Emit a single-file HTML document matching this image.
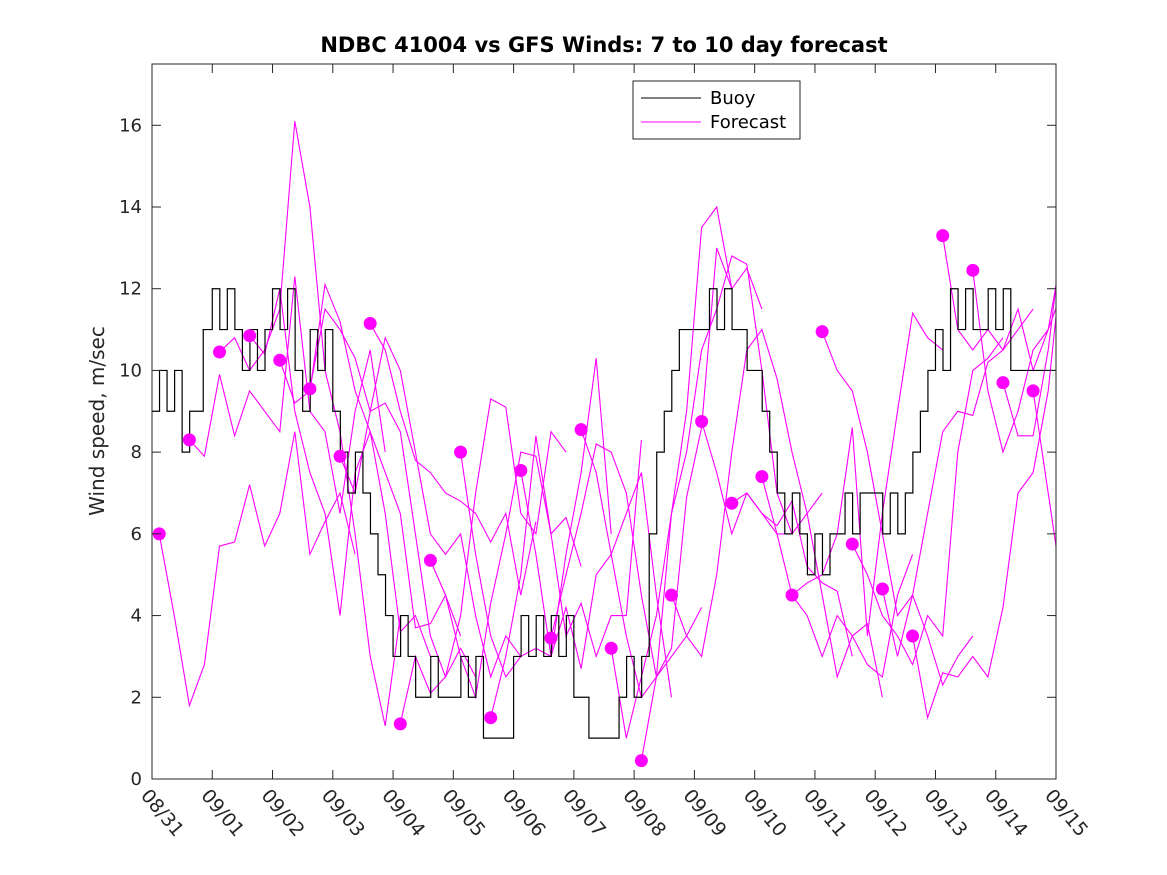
<!DOCTYPE html>
<html><head><meta charset="utf-8"><style>
body{margin:0;background:#fff}
svg{display:block;font-family:"DejaVu Sans","Liberation Sans",sans-serif}
</style></head><body>
<svg id="chart" width="1167" height="875">
<rect width="1167" height="875" fill="#fff"/>
<text x="604" y="52" text-anchor="middle" font-size="21" font-weight="bold" fill="#000">NDBC 41004 vs GFS Winds: 7 to 10 day forecast</text>
<text transform="translate(104,421) rotate(-90)" text-anchor="middle" font-size="20" fill="#262626">Wind speed, m/sec</text>
<g id="plot"></g>
</svg>
<script>
const dayLabels=["08/31","09/01","09/02","09/03","09/04","09/05","09/06","09/07","09/08","09/09","09/10","09/11","09/12","09/13","09/14","09/15"];
const yTicks=[0,2,4,6,8,10,12,14,16];
const buoyT=[0,0.125,0.25,0.375,0.5,0.625,0.75,0.85,1,1.125,1.25,1.375,1.5,1.625,1.75,1.875,2,2.125,2.25,2.375,2.5,2.625,2.75,2.875,3,3.125,3.25,3.375,3.5,3.625,3.75,3.875,4,4.125,4.25,4.375,4.5,4.625,4.75,5,5.125,5.25,5.375,5.5,5.75,6,6.125,6.25,6.375,6.5,6.625,6.75,6.875,7,7.25,7.5,7.75,7.875,8,8.125,8.25,8.375,8.5,8.625,8.75,9,9.25,9.375,9.5,9.625,9.75,9.875,10,10.125,10.25,10.375,10.5,10.625,10.75,10.875,11,11.125,11.25,11.375,11.5,11.625,11.75,12,12.125,12.25,12.375,12.5,12.625,12.75,12.875,13,13.125,13.25,13.375,13.5,13.625,13.75,13.875,14,14.125,14.25,14.5,14.75];
const buoyV=[9,10,9,10,8,9,9,11,12,11,12,11,10,11,10,11,12,11,12,10,9,11,10,11,9,8,7,8,7,6,5,4,3,4,3,2,2,3,2,2,3,2,3,1,1,3,4,3,4,3,4,3,4,2,1,1,2,3,2,3,6,8,9,10,11,11,12,11,12,11,11,10,10,9,8,7,6,7,6,5,6,5,6,6,7,6,7,7,6,7,6,7,8,9,10,11,10,12,11,12,11,11,12,11,12,10,10,10];
const fcStart=[0.12,0.62,1.12,1.62,2.12,2.62,3.12,3.62,4.12,4.62,5.12,5.62,6.12,6.62,7.12,7.62,8.12,8.62,9.12,9.62,10.12,10.62,11.12,11.62,12.12,12.62,13.12,13.62,14.12,14.62];
const fcStartV=[6.0,8.3,10.45,10.85,10.25,9.55,7.9,11.15,1.35,5.35,8.0,1.5,7.55,3.45,8.55,3.2,0.45,4.5,8.75,6.75,7.4,4.5,10.95,5.75,4.65,3.5,13.3,12.45,9.7,9.5];
const fcTrail=[
[6.0,4.0,1.8,2.8,5.7,5.8,7.2,5.7,6.5,8.5,5.5,6.3,7.0,5.5],
[8.3,7.9,9.9,8.4,9.5,9.0,8.5,12.3,9.0,8.5,6.5,9.0,10.5,8.0],
[10.45,10.8,10.0,10.5,11.5,16.1,14.0,10.0,8.5,6.0,3.0,1.3,4.0],
[10.85,10.4,12.0,9.0,7.5,6.5,4.0,7.5,8.5,6.5,3.6,4.0,3.0],
[10.25,9.2,9.5,12.1,11.2,9.5,8.5,7.5,6.5,3.7,3.8,4.5,3.5],
[9.55,11.5,11.0,10.3,9.0,9.2,8.5,6.0,3.5,2.5,3.2,2.5],
[7.9,7.0,9.0,10.8,10.0,8.0,6.0,5.5,6.0,4.0,2.5,3.5,3.0],
[11.15,10.5,9.0,7.8,7.5,7.0,6.8,6.5,5.8,6.5,4.5,6.3],
[1.35,3.0,2.1,2.5,4.0,7.0,9.3,9.1,6.5,6.0,8.5,8.0],
[5.35,4.5,3.0,2.0,4.3,6.0,8.0,7.9,6.0,6.4,5.2],
[8.0,5.5,3.5,2.5,3.0,3.2,3.0,5.5,7.5,10.3,6.0],
[1.5,3.0,5.0,8.4,6.0,3.5,4.3,3.0,4.0,4.0,8.3],
[7.55,5.5,3.0,4.2,2.7,5.0,5.5,6.5,7.5,4.5,2.0],
[3.45,5.0,6.5,8.2,8.0,7.0,4.5,2.5,3.0,3.5,4.2],
[8.55,7.5,5.5,3.5,2.0,2.5,3.2,6.9,8.6,13.0,12.0],
[3.2,1.0,2.5,4.0,6.5,9.0,13.5,14.0,12.0,12.5,11.5],
[0.45,2.5,6.5,8.0,10.5,11.5,12.8,12.6,10.0,7.0,6.0],
[4.5,3.5,3.0,5.0,8.0,10.5,11.0,9.8,8.0,6.5,7.0],
[8.75,7.5,6.0,7.0,6.5,6.2,6.8,5.2,4.8,4.6,3.0],
[6.75,7.0,6.5,6.0,6.0,6.5,4.5,2.5,3.5,3.8,2.0],
[7.4,6.0,4.5,4.0,3.0,4.0,3.5,2.8,2.5,4.5,5.5],
[4.5,4.8,5.0,6.0,8.6,3.5,6.5,9.0,11.4,10.8,10.5],
[10.95,10.0,9.5,8.0,6.0,4.0,4.5,3.5,2.3,3.0,3.5],
[5.75,5.0,4.0,3.5,2.8,4.0,3.5,8.0,10.0,10.3,10.8],
[4.65,3.0,4.5,6.5,8.5,9.0,8.9,10.2,10.5,11.0,11.5],
[3.5,1.5,2.6,2.5,3.0,2.5,4.2,7.0,7.5,9.5,13.0],
[13.3,11.0,10.5,11.0,10.5,11.5,10.0,11.0,12.0,13.0,14.0],
[12.45,9.5,8.0,9.0,10.5,11.0,13.1,17.0,16.5,17.3,12.5],
[9.7,8.4,8.4,10.5,13.5,14.3,12.0,14.7,13.8,13.9],
[9.5,7.0,4.5,4.5,8.9,5.5,0.5,5.8,0.9]
];
const svg=document.getElementById('chart'), g=document.getElementById('plot');
const NS='http://www.w3.org/2000/svg';
const L=152,R=1056,T=64,B=779;
const X=d=>L+(R-L)*d/15, Y=v=>B-(B-T)*v/17.5;
function mk(tag,attrs,parent){const e=document.createElementNS(NS,tag);for(const k in attrs)e.setAttribute(k,attrs[k]);(parent||g).appendChild(e);return e;}
const cp=mk('clipPath',{id:'clip'});mk('rect',{x:L,y:T,width:R-L,height:B-T},cp);
fcTrail.forEach((tr,i)=>{
 const pts=tr.map((v,j)=>X(fcStart[i]+0.25*j).toFixed(1)+','+Y(v).toFixed(1)).join(' ');
 const p=mk('polyline',{points:pts,fill:'none',stroke:'#ff00ff','stroke-width':1.1,'clip-path':'url(#clip)'});
 
 
});
let d='';
buoyT.forEach((t,i)=>{const x=X(t),y=Y(buoyV[i]);d+=(i?`L${x},${Y(buoyV[i-1])}L${x},${y}`:`M${x},${y}`);});
d+=`L${R},${Y(buoyV[buoyV.length-1])}`;
const bl=mk('path',{d:d,fill:'none',stroke:'#000','stroke-width':1.2,'clip-path':'url(#clip)'});


fcStart.forEach((t,i)=>{
 const c=mk('circle',{cx:X(t),cy:Y(fcStartV[i]),r:6.5,fill:'#ff00ff'});
 
 
});
const box=mk('rect',{x:L,y:T,width:R-L,height:B-T,fill:'none',stroke:'#262626','stroke-width':1});


yTicks.forEach(v=>{
 const y=Y(v);
 mk('line',{x1:L,x2:L+9,y1:y,y2:y,stroke:'#262626'});
 mk('line',{x1:R,x2:R-9,y1:y,y2:y,stroke:'#262626'});
 const t=mk('text',{x:L-10,y:y+6,'text-anchor':'end','font-size':18,fill:'#262626'});t.textContent=v;
 
 
});
dayLabels.forEach((s,i)=>{
 const x=X(i);
 mk('line',{x1:x,x2:x,y1:B,y2:B-9,stroke:'#262626'});
 mk('line',{x1:x,x2:x,y1:T,y2:T+9,stroke:'#262626'});
 const t=mk('text',{x:0,y:0,transform:`translate(${x-12},${B+17}) rotate(50)`,'font-size':19,fill:'#262626'});t.textContent=s;
 
 
});
const lg=mk('g',{});


mk('rect',{x:633,y:81,width:167,height:58,fill:'#fff',stroke:'#262626'},lg);
mk('line',{x1:641,x2:701,y1:98,y2:98,stroke:'#000'},lg);
mk('line',{x1:641,x2:701,y1:122,y2:122,stroke:'#ff00ff'},lg);
const t1=mk('text',{x:710,y:104,'font-size':18,fill:'#000'},lg);t1.textContent='Buoy';


const t2=mk('text',{x:710,y:128,'font-size':18,fill:'#000'},lg);t2.textContent='Forecast';


</script>
</body></html>
